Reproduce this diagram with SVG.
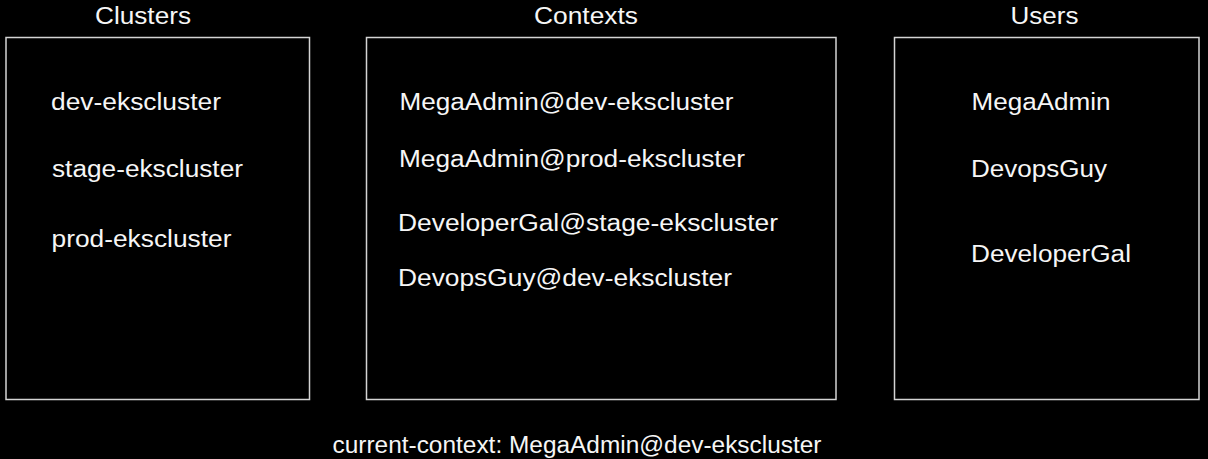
<svg xmlns="http://www.w3.org/2000/svg" width="1208" height="459" viewBox="0 0 1208 459">
<style>
.bg{fill:#000}
.box{fill:#000;stroke:#d4d4d4;stroke-width:1.5}
text{font-family:"Liberation Sans",Arial,sans-serif;font-size:23px;fill:#f6f6f6}
</style>
<rect class="bg" x="0" y="0" width="1208" height="459"/>
<g id="clusters">
<rect class="box" x="6" y="37.5" width="303.5" height="362"/>
<text x="95" y="24" textLength="96" lengthAdjust="spacingAndGlyphs">Clusters</text>
<text x="51" y="109.5" textLength="170" lengthAdjust="spacingAndGlyphs">dev-ekscluster</text>
<text x="52" y="177" textLength="191" lengthAdjust="spacingAndGlyphs">stage-ekscluster</text>
<text x="51.5" y="247" textLength="180" lengthAdjust="spacingAndGlyphs">prod-ekscluster</text>
</g>
<g id="contexts">
<rect class="box" x="366.5" y="37.5" width="469.5" height="362"/>
<text x="534" y="24" textLength="104" lengthAdjust="spacingAndGlyphs">Contexts</text>
<text x="399.5" y="110" textLength="334" lengthAdjust="spacingAndGlyphs">MegaAdmin@dev-ekscluster</text>
<text x="399" y="167" textLength="346" lengthAdjust="spacingAndGlyphs">MegaAdmin@prod-ekscluster</text>
<text x="398" y="230.5" textLength="380" lengthAdjust="spacingAndGlyphs">DeveloperGal@stage-ekscluster</text>
<text x="398" y="285.5" textLength="334" lengthAdjust="spacingAndGlyphs">DevopsGuy@dev-ekscluster</text>
</g>
<g id="users">
<rect class="box" x="894.5" y="37.5" width="304.5" height="362"/>
<text x="1010.5" y="24" textLength="68" lengthAdjust="spacingAndGlyphs">Users</text>
<text x="971.5" y="109.5" textLength="139" lengthAdjust="spacingAndGlyphs">MegaAdmin</text>
<text x="971" y="177" textLength="136" lengthAdjust="spacingAndGlyphs">DevopsGuy</text>
<text x="971" y="261.5" textLength="160" lengthAdjust="spacingAndGlyphs">DeveloperGal</text>
</g>
<g id="current-context">
<text x="332.5" y="453" textLength="489" lengthAdjust="spacingAndGlyphs">current-context: MegaAdmin@dev-ekscluster</text>
</g>
<g id="connectors"/>
</svg>
